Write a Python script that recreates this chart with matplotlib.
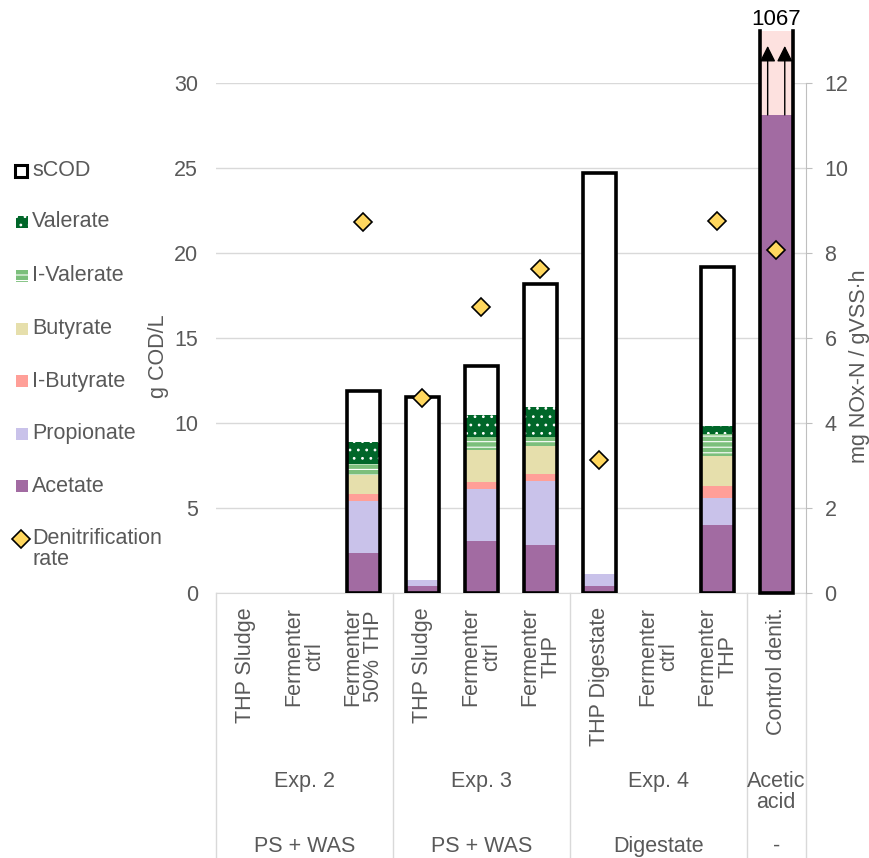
import numpy as np
import matplotlib
matplotlib.use("Agg")
import matplotlib.pyplot as plt
from matplotlib.patches import Rectangle

plt.rcParams['font.family'] = ['Liberation Sans', 'DejaVu Sans']
plt.rcParams['hatch.linewidth'] = 0.8

# data
categories = ["THP Sludge", "Fermenter\nctrl", "Fermenter\n50% THP",
              "THP Sludge", "Fermenter\nctrl", "Fermenter\nTHP",
              "THP Digestate", "Fermenter\nctrl", "Fermenter\nTHP",
              "Control denit."]
experiments = ["Exp. 2", "Exp. 3", "Exp. 4", "Acetic\nacid"]
substrates = ["PS + WAS", "PS + WAS", "Digestate", "-"]
group_sizes = [3, 3, 3, 1]

acetate = [0, 0, 2.39, 0.43, 3.10, 2.84, 0.43, 0, 4.02, 28.14]
propionate = [0, 0, 3.04, 0.35, 3.02, 3.78, 0.69, 0, 1.60, 0]
i_butyrate = [0, 0, 0.39, 0, 0.41, 0.40, 0, 0, 0.69, 0]
butyrate = [0, 0, 1.14, 0, 1.90, 1.64, 0, 0, 1.77, 0]
i_valerate = [0, 0, 0.64, 0, 0.78, 0.55, 0, 0, 1.29, 0]
valerate = [0, 0, 1.32, 0, 1.28, 1.77, 0, 0, 0.47, 0]
scod = [np.nan, np.nan, 11.92, 11.53, 13.37, 18.18, 24.74, np.nan, 19.21, 1067]
denit = [np.nan, np.nan, 8.73, 4.60, 6.74, 7.63, 3.14, np.nan, 8.77, 8.08]

# series: label, values, color, hatch
stack = [
    ("Acetate", acetate, "#A26BA2", None),
    ("Propionate", propionate, "#C9C2EA", None),
    ("I-Butyrate", i_butyrate, "#FF9F98", None),
    ("Butyrate", butyrate, "#E6DFAC", None),
    ("I-Valerate", i_valerate, "#7CBF7C", "---"),
    ("Valerate", valerate, "#006629", ".."),
]

grey_txt = "#595959"
fs = 15.5
W, H = 870, 858

fig = plt.figure(figsize=(W / 100, H / 100), dpi=100)
ax = fig.add_axes([216 / W, 1 - 593.3 / H, 589.7 / W, 510 / H])
x = np.arange(len(categories))
width = 0.56
ymax = 30
ybreak = 33.1

ax.set_xlim(-0.5, len(categories) - 0.5)
ax.set_ylim(0, ymax)
ax.set_yticks(np.arange(0, 31, 5))
ax.set_xticks([])
ax.grid(axis='y', color='#d9d9d9', lw=1)
ax.set_axisbelow(True)
for s in ['left', 'top', 'right']:
    ax.spines[s].set_visible(False)
ax.spines['bottom'].set_color('#d9d9d9')
ax.tick_params(axis='y', length=0, pad=13, labelsize=fs, labelcolor=grey_txt)

# white sCOD background
scod_arr = np.array(scod, dtype=float)
in_range = np.where(scod_arr <= ymax, scod_arr, 0)
ax.bar(x, np.nan_to_num(in_range), width, color='white', lw=0, zorder=2)

bottom = np.zeros(len(categories))
for name, vals, col, hatch in stack:
    vals = np.array(vals)
    ax.bar(x, vals, width, bottom=bottom, color=col, hatch=hatch,
           edgecolor='white' if hatch else col, lw=0, zorder=3)
    bottom += vals

# sCOD outlines
ok = ~np.isnan(scod_arr) & (scod_arr <= ymax)
ax.bar(x[ok], scod_arr[ok], width, facecolor='none', edgecolor='black',
       lw=2.6, zorder=4)

# off-scale sCOD (axis break with arrows)
for i in np.where(scod_arr > ymax)[0]:
    ax.bar(x[i], ybreak - bottom[i], width, bottom=bottom[i], color='#FDE1DF',
           lw=0, zorder=2, clip_on=False)
    l, r = x[i] - width / 2, x[i] + width / 2
    ax.plot([l, l, r, r], [ybreak, 0, 0, ybreak], color='black', lw=2.6,
            zorder=4, clip_on=False, solid_joinstyle='miter')
    for dx in (-0.145, 0.145):
        ax.annotate('', xy=(x[i] + dx, 32.2), xytext=(x[i] + dx, bottom[i]),
                    arrowprops=dict(arrowstyle='-|>', color='black', lw=1,
                                    mutation_scale=24, shrinkA=0, shrinkB=0),
                    annotation_clip=False, zorder=5)
    ax.text(x[i], 33.75, f"{scod[i]:g}", ha='center', va='center',
            fontsize=16, color='black', clip_on=False)

# right axis: denitrification rate
ax2 = ax.twinx()
ax2.set_ylim(0, 12)
ax2.set_yticks(np.arange(0, 13, 2))
for s in ['left', 'top', 'bottom']:
    ax2.spines[s].set_visible(False)
ax2.spines['right'].set_color('#bfbfbf')
ax2.tick_params(axis='y', length=4.5, color='#bfbfbf', pad=9,
                labelsize=fs, labelcolor=grey_txt)
ax2.plot(x, denit, ls='none', marker='D', ms=9.2, mfc='#FFD75E',
         mec='black', mew=1.2, zorder=6)

# axis titles
ax.text(-0.0967, 0.465, "g COD/L", transform=ax.transAxes, rotation=90,
        ha='center', va='center', fontsize=fs, color=grey_txt)
ax.text(1.092, 0.446, "mg NOx-N / gVSS\u00b7h", transform=ax.transAxes,
        rotation=90, ha='center', va='center', fontsize=fs, color=grey_txt)

# multi-level category axis
tr = ax.get_xaxis_transform()
for xi, lab in zip(x, categories):
    ax.text(xi, -0.027, lab, transform=tr, rotation=90, ha='center', va='top',
            multialignment='center', fontsize=fs, color=grey_txt,
            linespacing=1.0)
edges = np.concatenate([[0], np.cumsum(group_sizes)]) - 0.5
for e in edges:
    ax.plot([e, e], [0, -0.53], transform=tr, color='#d9d9d9', lw=1,
            clip_on=False)
for k, (exp, sub) in enumerate(zip(experiments, substrates)):
    cx = (edges[k] + edges[k + 1]) / 2
    ax.text(cx, -0.348, exp, transform=tr, ha='center', va='top',
            fontsize=fs, color=grey_txt, linespacing=1.0)
    ax.text(cx, -0.476, sub, transform=tr, ha='center', va='top',
            fontsize=fs, color=grey_txt)

# legend drawn on the left in pixel coordinates
lax = fig.add_axes([0, 0, 1, 1])
lax.set_xlim(0, W)
lax.set_ylim(H, 0)
lax.axis('off')
leg_y = [221.5, 275.5, 328.5, 381, 433.5, 486]
leg_items = list(reversed(stack))
lax.add_patch(Rectangle((15, 164.5), 12, 12, facecolor='white',
                        edgecolor='black', lw=2.2))
lax.text(32, 171, "sCOD", va='center', ha='left', fontsize=fs, color=grey_txt)
for yy, (name, vals, col, hatch) in zip(leg_y, leg_items):
    lax.add_patch(Rectangle((16, yy - 6), 12, 12, facecolor=col, hatch=hatch,
                            edgecolor='white' if hatch else col, lw=0))
    lax.text(32, yy, name, va='center', ha='left', fontsize=fs, color=grey_txt)
lax.plot([21.5], [539], ls='none', marker='D', ms=9.2, mfc='#FFD75E',
         mec='black', mew=1.2)
lax.text(32, 528, "Denitrification\nrate", va='top', ha='left', fontsize=fs,
         color=grey_txt, linespacing=1.0)

fig.savefig("out.png", dpi=100)
